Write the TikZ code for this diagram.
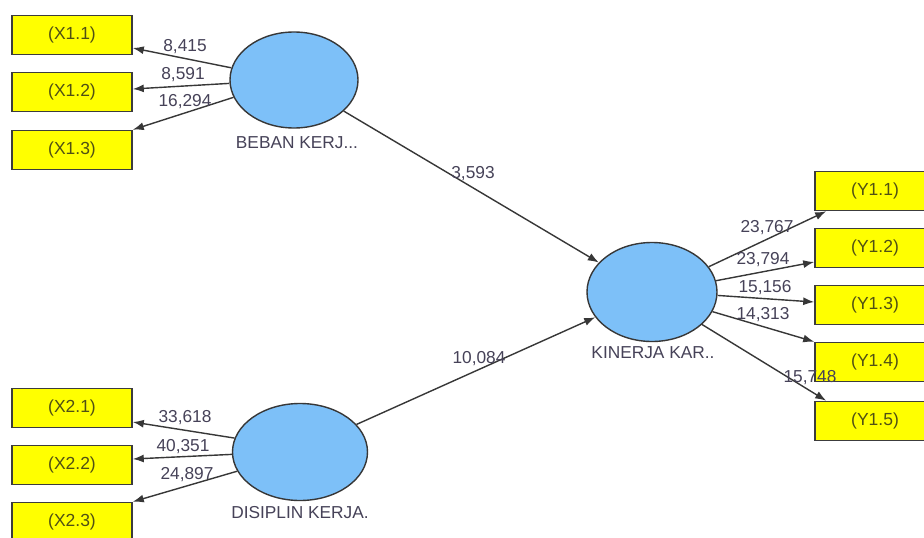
\documentclass[tikz,border=0pt]{standalone}
\usepackage{fontspec}
\setmainfont{Liberation Sans}
\usetikzlibrary{arrows.meta,shapes.geometric}
\definecolor{boxfill}{RGB}{255,255,0}
\definecolor{boxline}{RGB}{60,60,60}
\definecolor{ellfill}{RGB}{125,192,248}
\definecolor{lbl}{RGB}{70,66,88}
\definecolor{boxtxt}{RGB}{80,80,20}
\definecolor{arr}{RGB}{55,55,55}
\tikzset{
  ind/.style={draw=boxline,line width=1.6pt,fill=boxfill,minimum width=120pt,minimum height=39pt,inner sep=0pt,text=boxtxt,font=\fontsize{17.5}{20}\selectfont},
  lat/.style={ellipse,draw=arr,line width=1.4pt,fill=ellfill,inner sep=0pt},
  lv/.style={text=lbl,font=\fontsize{17.3}{20}\selectfont,inner sep=0pt},
  wt/.style={text=lbl,font=\fontsize{17.3}{20}\selectfont,inner sep=0pt},
  con/.style={draw=arr,line width=1.4pt,-{Latex[length=11pt,width=8pt]}}
}
\begin{document}
\begin{tikzpicture}[x=1pt,y=-1pt]
\useasboundingbox[fill=white] (0,0) rectangle (924,538);
% indicator boxes
\node[ind] (x11) at (72,35) {(X1.1)};
\node[ind] (x12) at (72,92) {(X1.2)};
\node[ind] (x13) at (72,150) {(X1.3)};
\node[ind] (x21) at (72,408) {(X2.1)};
\node[ind] (x22) at (72,465) {(X2.2)};
\node[ind] (x23) at (72,522) {(X2.3)};
\node[ind] (y11) at (875,191) {(Y1.1)};
\node[ind] (y12) at (875,248) {(Y1.2)};
\node[ind] (y13) at (875,305) {(Y1.3)};
\node[ind] (y14) at (875,362) {(Y1.4)};
\node[ind] (y15) at (875,421) {(Y1.5)};
% latent variables
\node[lat,minimum width=128pt,minimum height=96pt] (b) at (294,80) {};
\node[lat,minimum width=135pt,minimum height=97pt] (d) at (300,452) {};
\node[lat,minimum width=130pt,minimum height=99pt] (k) at (652,292) {};
\node[lv] (bl) at (297,143) {BEBAN KERJ...};
\node[lv] (dl) at (300,513) {DISIPLIN KERJA.};
\node[lv] (kl) at (653,353) {KINERJA KAR..};
% outer loadings
\draw[con] (b.169) -- ([yshift=-13pt]x11.east);
\draw[con] (b.183) -- ([yshift=3pt]x12.east);
\draw[con] (b.196) -- (x13.north east);
\draw[con] (d.168) -- ([yshift=-14pt]x21.east);
\draw[con] (d.182) -- ([yshift=6pt]x22.east);
\draw[con] (d.197) -- (x23.north east);
\draw[con] (k.24) -- ([xshift=12pt]y11.south west);
\draw[con] (k.10) -- ([yshift=-14pt]y12.west);
\draw[con] (k.-3) -- ([yshift=3pt]y13.west);
\draw[con] (k.-18) -- (y14.north west);
\draw[con] (k.-33) -- ([xshift=12pt]y15.north west);
% structural paths
\draw[con] (b.-32) -- (k.151);
\draw[con] (d.26) -- (k.204);
% values
\node[wt] (w1) at (185,47) {8,415};
\node[wt] (w2) at (183,75) {8,591};
\node[wt] (w3) at (185,102) {16,294};
\node[wt] (w4) at (185,418) {33,618};
\node[wt] (w5) at (183,447) {40,351};
\node[wt] (w6) at (187,475) {24,897};
\node[wt] (w7) at (767,228) {23,767};
\node[wt] (w8) at (763,260) {23,794};
\node[wt] (w9) at (765,288) {15,156};
\node[wt] (w10) at (763,315) {14,313};
\node[wt] (w11) at (810,378) {15,748};
\node[wt] (w12) at (473,174) {3,593};
\node[wt] (w13) at (479,359) {10,084};
\end{tikzpicture}
\end{document}
